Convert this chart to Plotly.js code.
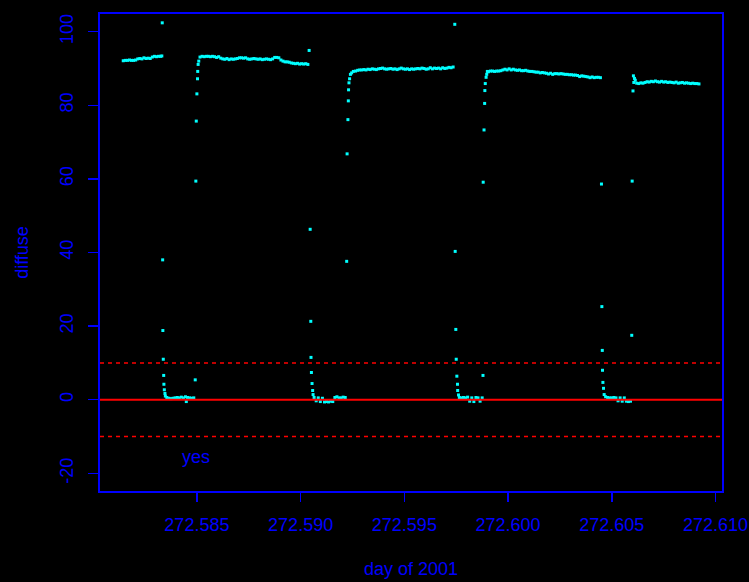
<!DOCTYPE html>
<html>
<head>
<meta charset="utf-8">
<script src="https://cdn.plot.ly/plotly-3.0.1.min.js"></script>
<style>
  html, body { margin: 0; padding: 0; background: #000000; }
  #chart { width: 749px; height: 582px; }
</style>
</head>
<body>
<div id="chart"></div>
<script>
// ---- data (day of 2001 vs diffuse) ----
const seg1Day = [272.58145, 272.58155, 272.58165, 272.58175, 272.58185, 272.58195, 272.58205, 272.58215, 272.58225, 272.58235,
                 272.58245, 272.58255, 272.58265, 272.58275, 272.58285, 272.58295, 272.58305, 272.58315, 272.58325, 272.58331];
const seg1Diffuse = [92.1, 92.2, 92.2, 92.3, 92.2, 92.2, 92.3, 92.6, 92.7, 92.6,
                     92.9, 92.7, 92.8, 92.7, 93.1, 93.3, 93.2, 93.3, 93.3, 93.4];

const drop1Day = [272.58333, 272.58335, 272.58336, 272.58338, 272.58340, 272.58341, 272.58343, 272.58346, 272.58348];
const drop1Diffuse = [102.4, 38.0, 18.8, 11.0, 6.6, 4.2, 2.7, 1.7, 1.0];

const low1Day = [272.58355, 272.58365, 272.58375, 272.58385, 272.58395, 272.58405, 272.58415, 272.58425, 272.58435, 272.58445,
                 272.58449, 272.58455, 272.58465, 272.58475, 272.58485];
const low1Diffuse = [0.6, 0.4, 0.3, 0.4, 0.5, 0.6, 0.5, 0.7, 0.5, 0.8, -0.5, 0.6, 0.5, 0.4, 0.5];

const rise1Day = [272.58492, 272.58495, 272.58497, 272.58500, 272.58503, 272.58504, 272.58506, 272.58509];
const rise1Diffuse = [5.4, 59.4, 75.7, 83.1, 87.2, 89.2, 91.1, 92.0];

const seg2Day = [272.58515, 272.58525, 272.58535, 272.58545, 272.58555, 272.58565, 272.58575, 272.58585, 272.58595, 272.58605,
                 272.58615, 272.58625, 272.58635, 272.58645, 272.58655, 272.58665, 272.58675, 272.58685, 272.58695, 272.58705,
                 272.58715, 272.58725, 272.58735, 272.58745, 272.58755, 272.58765, 272.58775, 272.58785, 272.58795, 272.58805,
                 272.58815, 272.58825, 272.58835, 272.58845, 272.58855, 272.58865, 272.58875, 272.58885, 272.58895, 272.58905,
                 272.58915, 272.58925, 272.58935, 272.58945, 272.58955, 272.58965, 272.58975, 272.58985, 272.58995, 272.59005,
                 272.59015, 272.59025, 272.59035];
const seg2Diffuse = [93.1, 93.3, 93.2, 93.3, 93.3, 93.2, 93.3, 93.2, 93.0, 93.2,
                     92.8, 92.6, 92.5, 92.7, 92.4, 92.6, 92.5, 92.6, 92.7, 92.9,
                     92.9, 92.8, 92.9, 92.6, 92.5, 92.6, 92.7, 92.6, 92.5, 92.6,
                     92.4, 92.5, 92.6, 92.5, 92.4, 92.6, 93.0, 93.0, 92.9, 92.3,
                     92.0, 91.8, 91.8, 91.7, 91.5, 91.4, 91.3, 91.4, 91.2, 91.3,
                     91.2, 91.3, 91.1];

const drop2Day = [272.59041, 272.59046, 272.59049, 272.59050, 272.59052, 272.59055, 272.59058, 272.59060];
const drop2Diffuse = [94.9, 46.3, 21.3, 11.5, 7.4, 4.4, 2.5, 1.4];

const low2Day = [272.59065, 272.59075, 272.59085, 272.59095, 272.59105, 272.59115, 272.59125, 272.59135, 272.59145, 272.59155,
                 272.59165, 272.59175, 272.59185, 272.59195, 272.59205, 272.59215];
const low2Diffuse = [0.6, -0.3, 0.5, -0.5, 0.4, -0.6, -0.5, -0.6, -0.4, -0.5, 0.6, 0.8, 0.5, 0.5, 0.7, 0.6];

const rise2Day = [272.59222, 272.59224, 272.59228, 272.59230, 272.59231, 272.59233, 272.59236, 272.59240, 272.59246, 272.59254];
const rise2Diffuse = [37.6, 66.8, 76.1, 81.2, 84.2, 86.1, 87.2, 88.4, 88.8, 89.2];

const seg3Day = [272.59265, 272.59275, 272.59285, 272.59295, 272.59305, 272.59315, 272.59325, 272.59335, 272.59345, 272.59355,
                 272.59365, 272.59375, 272.59385, 272.59395, 272.59405, 272.59415, 272.59425, 272.59435, 272.59445, 272.59455,
                 272.59465, 272.59475, 272.59485, 272.59495, 272.59505, 272.59515, 272.59525, 272.59535, 272.59545, 272.59555,
                 272.59565, 272.59575, 272.59585, 272.59595, 272.59605, 272.59615, 272.59625, 272.59635, 272.59645, 272.59655,
                 272.59665, 272.59675, 272.59685, 272.59695, 272.59705, 272.59715, 272.59725, 272.59735];
const seg3Diffuse = [89.3, 89.5, 89.6, 89.6, 89.7, 89.6, 89.8, 89.7, 89.9, 89.8,
                     89.7, 89.9, 90.0, 90.1, 89.9, 89.8, 89.9, 90.0, 89.8, 89.9,
                     89.7, 89.9, 90.1, 89.9, 89.8, 89.9, 89.7, 89.9, 89.8, 89.9,
                     90.0, 89.9, 90.1, 90.0, 89.8, 89.9, 90.2, 89.9, 90.1, 90.0,
                     90.1, 89.9, 90.2, 90.0, 90.1, 90.3, 90.2, 90.4];

const drop3Day = [272.59743, 272.59745, 272.59748, 272.59750, 272.59753, 272.59756, 272.59757, 272.59761];
const drop3Diffuse = [102.0, 40.3, 19.1, 11.0, 6.4, 4.2, 2.5, 1.3];

const low3Day = [272.59765, 272.59775, 272.59785, 272.59795, 272.59805, 272.59815, 272.59825, 272.59835, 272.59845, 272.59855,
                 272.59865, 272.59875];
const low3Diffuse = [0.6, 0.5, 0.6, 0.5, 0.7, -0.4, 0.5, -0.5, 0.6, 0.5, -0.4, 0.5];

const rise3Day = [272.59879, 272.59880, 272.59884, 272.59887, 272.59888, 272.59890, 272.59894, 272.59897, 272.59900];
const rise3Diffuse = [6.6, 59.1, 73.3, 80.5, 84.0, 85.9, 87.6, 88.4, 89.2];

const seg4Day = [272.59905, 272.59915, 272.59925, 272.59935, 272.59945, 272.59955, 272.59965, 272.59975, 272.59985, 272.59995,
                 272.60005, 272.60015, 272.60025, 272.60035, 272.60045, 272.60055, 272.60065, 272.60075, 272.60085, 272.60095,
                 272.60105, 272.60115, 272.60125, 272.60135, 272.60145, 272.60155, 272.60165, 272.60175, 272.60185, 272.60195,
                 272.60205, 272.60215, 272.60225, 272.60235, 272.60245, 272.60255, 272.60265, 272.60275, 272.60285, 272.60295,
                 272.60305, 272.60315, 272.60325, 272.60335, 272.60345, 272.60355, 272.60365, 272.60375, 272.60385, 272.60395,
                 272.60405, 272.60415, 272.60425, 272.60435, 272.60445];
const seg4Diffuse = [89.1, 89.3, 89.3, 89.2, 89.3, 89.3, 89.4, 89.6, 89.8, 89.6,
                     89.9, 89.6, 89.8, 89.6, 89.5, 89.6, 89.4, 89.4, 89.5, 89.3,
                     89.2, 89.2, 89.1, 89.0, 89.0, 88.8, 88.9, 88.8, 88.7, 88.5,
                     88.7, 88.4, 88.6, 88.6, 88.5, 88.6, 88.5, 88.4, 88.4, 88.3,
                     88.3, 88.2, 88.2, 88.1, 87.8, 88.0, 87.9, 87.8, 87.7, 87.5,
                     87.7, 87.5, 87.6, 87.6, 87.5];

const drop4Day = [272.60450, 272.60452, 272.60454, 272.60455, 272.60457, 272.60460, 272.60463];
const drop4Diffuse = [58.6, 25.3, 13.4, 8.0, 4.7, 3.1, 1.4];

const low4Day = [272.60470, 272.60480, 272.60490, 272.60500, 272.60510, 272.60520, 272.60530, 272.60540, 272.60550, 272.60560,
                 272.60570, 272.60580, 272.60590];
const low4Diffuse = [0.8, 0.6, 0.5, 0.5, 0.6, 0.5, -0.3, 0.5, -0.4, 0.5, -0.4, -0.5, -0.4];

const rise4Day = [272.60596, 272.60598, 272.60602, 272.60604, 272.60606, 272.60609, 272.60613];
const rise4Diffuse = [17.5, 59.4, 83.9, 88.0, 86.2, 87.3, 86.8];

const seg5Day = [272.60620, 272.60630, 272.60640, 272.60650, 272.60660, 272.60670, 272.60680, 272.60690, 272.60700, 272.60710,
                 272.60720, 272.60730, 272.60740, 272.60750, 272.60760, 272.60770, 272.60780, 272.60790, 272.60800, 272.60810,
                 272.60820, 272.60830, 272.60840, 272.60850, 272.60860, 272.60870, 272.60880, 272.60890, 272.60900, 272.60910,
                 272.60920];
const seg5Diffuse = [86.0, 85.9, 86.1, 86.0, 86.2, 86.4, 86.3, 86.5, 86.4, 86.6,
                     86.4, 86.3, 86.5, 86.3, 86.4, 86.2, 86.3, 86.2, 86.1, 86.3,
                     86.0, 86.1, 86.2, 86.0, 86.1, 86.0, 85.9, 86.0, 85.9, 85.9,
                     85.8];

const xTickVals = [272.585, 272.590, 272.595, 272.600, 272.605, 272.610];
const xTickText = ["272.585", "272.590", "272.595", "272.600", "272.605", "272.610"];
const yTickVals = [-20, 0, 20, 40, 60, 80, 100];
const yTickText = ["-20", "0", "20", "40", "60", "80", "100"];
const refLevels = [-10, 0, 10];

// ---- assemble ----
const dayAll = [].concat(seg1Day, drop1Day, low1Day, rise1Day, seg2Day, drop2Day, low2Day, rise2Day,
                         seg3Day, drop3Day, low3Day, rise3Day, seg4Day, drop4Day, low4Day, rise4Day, seg5Day);
const diffuseAll = [].concat(seg1Diffuse, drop1Diffuse, low1Diffuse, rise1Diffuse, seg2Diffuse, drop2Diffuse, low2Diffuse, rise2Diffuse,
                             seg3Diffuse, drop3Diffuse, low3Diffuse, rise3Diffuse, seg4Diffuse, drop4Diffuse, low4Diffuse, rise4Diffuse, seg5Diffuse);

const BLUE = '#0000ff';
const FONT = 'Liberation Sans, Arial, Helvetica, sans-serif';

const trace = {
  type: 'scatter',
  mode: 'markers',
  x: dayAll,
  y: diffuseAll,
  marker: { symbol: 'square', size: 3, color: '#00ffff', line: { width: 0 } },
  hoverinfo: 'x+y',
  showlegend: false
};

const shapes = refLevels.map(v => ({
  type: 'line', xref: 'paper', x0: 0, x1: 1, yref: 'y', y0: v, y1: v,
  layer: 'above',
  line: { color: '#ff0000', width: v === 0 ? 2 : 1.5, dash: v === 0 ? 'solid' : '4px,4px' }
}));

const layout = {
  width: 749,
  height: 582,
  paper_bgcolor: '#000000',
  plot_bgcolor: '#000000',
  margin: { l: 100, r: 27, t: 14, b: 91, pad: 0 },
  font: { family: FONT, color: BLUE, size: 18 },
  showlegend: false,
  xaxis: {
    range: [272.58033, 272.61031],
    tickmode: 'array',
    tickvals: xTickVals,
    ticktext: xTickText,
    ticks: 'outside',
    ticklen: 9,
    tickwidth: 1.5,
    tickcolor: BLUE,
    ticklabelstandoff: 8,
    tickfont: { family: FONT, size: 18, color: BLUE },
    showline: true,
    linecolor: BLUE,
    linewidth: 1.6,
    mirror: true,
    showgrid: false,
    zeroline: false,
    title: { text: 'day of 2001', font: { family: FONT, size: 18, color: BLUE }, standoff: 28 }
  },
  yaxis: {
    range: [-24.8, 104.8],
    tickmode: 'array',
    tickvals: yTickVals,
    ticktext: yTickText,
    tickangle: -90,
    ticks: 'outside',
    ticklen: 10,
    tickwidth: 1.5,
    tickcolor: BLUE,
    ticklabelstandoff: 8,
    tickfont: { family: FONT, size: 18, color: BLUE },
    showline: true,
    linecolor: BLUE,
    linewidth: 1.6,
    mirror: true,
    showgrid: false,
    zeroline: false,
    title: { text: 'diffuse', font: { family: FONT, size: 18, color: BLUE }, standoff: 24 }
  },
  shapes: shapes,
  annotations: [{
    x: 272.58495, y: -15.5, xref: 'x', yref: 'y',
    text: 'yes', showarrow: false,
    font: { family: FONT, size: 18, color: BLUE }
  }]
};

Plotly.newPlot('chart', [trace], layout, { staticPlot: true, displayModeBar: false });
</script>
</body>
</html>
